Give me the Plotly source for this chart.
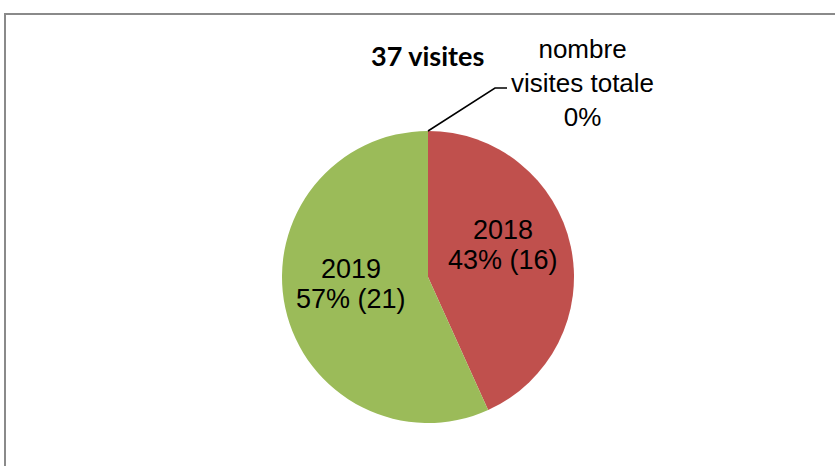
import math
import plotly.graph_objects as go

labels = ["nombre visites totale", "2018", "2019"]
values = [0, 16, 21]
colors = ["#4F81BD", "#C0504D", "#9BBB59"]
title_text = "37 visites"

W, H = 835, 466
cx, cy, r = 428, 277, 146  # pie centre / radius in px (layout)
# label placement inside slices: (angle clockwise from 12 o'clock in degrees, fraction of radius)
label_place = {"2018": (67, 0.558), "2019": (265, 0.53)}
line_gap = 30  # px between the two lines of an inside label

total = sum(values)

fig = go.Figure(go.Pie(
    labels=labels, values=values, sort=False, direction="clockwise", rotation=0,
    marker=dict(colors=colors, line=dict(width=0)),
    textinfo="none", hoverinfo="skip", showlegend=False,
    domain=dict(x=[(cx - r) / W, (cx + r) / W], y=[(H - cy - r) / H, (H - cy + r) / H]),
))

def px(x):
    return x / W

def py(y):
    return 1 - y / H

lab_font = dict(family="Liberation Sans, Arial", size=27, color="black")
annotations = []
for lab, v in zip(labels, values):
    if v == 0 or lab not in label_place:
        continue
    ang, frac = label_place[lab]
    bx = cx + frac * r * math.sin(math.radians(ang))
    by = cy - frac * r * math.cos(math.radians(ang))
    for i, line in enumerate([lab, f"{round(100 * v / total)}% ({v})"]):
        annotations.append(dict(text=line, x=px(bx), y=py(by + (i - 0.5) * line_gap),
                                xref="paper", yref="paper", xanchor="center", yanchor="middle",
                                showarrow=False, font=lab_font))

zero_label = labels[0].replace(" ", "<br>", 1) + f"<br>{round(100 * values[0] / total)}%"

annotations += [
    dict(text=f"<b>{title_text}</b>", x=px(427), y=py(55), xref="paper", yref="paper",
         xanchor="center", yanchor="middle",
         showarrow=False, font=dict(family="Lato, Carlito, sans-serif", size=27, color="black")),
    dict(text=zero_label, x=px(582), y=py(83), xref="paper", yref="paper",
         xanchor="center", yanchor="middle",
         showarrow=False, align="center",
         font=dict(family="Liberation Sans, Arial", size=26, color="black")),
]

fig.update_layout(
    width=W, height=H, margin=dict(l=0, r=0, t=0, b=0),
    paper_bgcolor="white", plot_bgcolor="white",
    annotations=annotations,
    shapes=[
        dict(type="rect", xref="paper", yref="paper", x0=px(5), y0=py(14), x1=px(W + 5), y1=py(H + 5),
             line=dict(color="#8a8a8a", width=2), fillcolor="rgba(0,0,0,0)", layer="below"),
        dict(type="path", xref="paper", yref="paper",
             path=f"M {px(cx)},{py(cy - r)} L {px(495)},{py(88)} L {px(507)},{py(88)}",
             line=dict(color="black", width=1.5)),
    ],
)

fig.write_html("out.html", config={"displayModeBar": False},
               post_script="document.body.style.margin='0';document.body.style.overflow='hidden';")
